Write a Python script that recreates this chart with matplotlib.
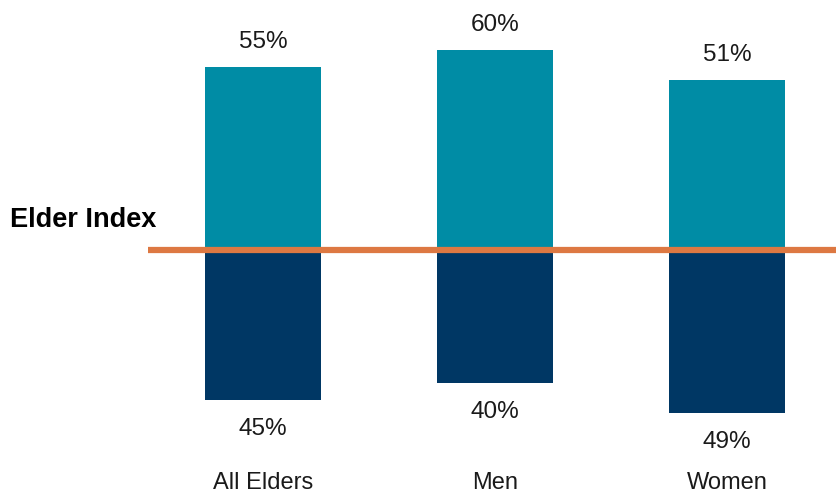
import matplotlib
matplotlib.use("Agg")
import matplotlib.pyplot as plt
import numpy as np

# ========== DATA ==========
categories = ['All Elders', 'Men', 'Women']
above_index = [55, 60, 51]   # share above the Elder Index
below_index = [45, 40, 49]   # share below the Elder Index

TEAL = '#008CA5'
NAVY = '#003764'
ORANGE = '#DD7842'

plt.rcParams['font.family'] = ['Liberation Sans', 'DejaVu Sans']

fig = plt.figure(figsize=(8.36, 4.96), dpi=100)
ax = fig.add_axes([0, 0, 1, 1])
ax.set_axis_off()

# map data units onto the reference pixel layout
x = np.arange(len(categories))
px_per_cat = 232.0
px_per_pct = 3.33
ax.set_xlim(-263 / px_per_cat, (836 - 263) / px_per_cat)
ax.set_ylim(-(496 - 250) / px_per_pct, 250 / px_per_pct)

ax.bar(x, above_index, width=0.5, color=TEAL, zorder=2)
ax.bar(x, [-v for v in below_index], width=0.5, color=NAVY, zorder=2)

# Elder Index line
ax.hlines(0, (148 - 263) / px_per_cat, ax.get_xlim()[1], color=ORANGE, linewidth=4.5, zorder=3)
fig.text(10 / 836, 1 - 220 / 496, 'Elder Index', ha='left', va='center',
         fontsize=19.5, fontweight='bold', color='black')

for xi, a, b in zip(x, above_index, below_index):
    ax.annotate(f'{a}%', (xi, a), xytext=(0, 18), textcoords='offset points',
                ha='center', va='center', fontsize=17.5, color='#1a1a1a')
    ax.annotate(f'{b}%', (xi, -b), xytext=(0, -21), textcoords='offset points',
                ha='center', va='center', fontsize=17.5, color='#1a1a1a')

for xi, c in zip(x, categories):
    ax.text(xi, -(483 - 250) / px_per_pct, c, ha='center', va='center', fontsize=17,
            color='#1a1a1a')

fig.savefig('out.png', dpi=100)
